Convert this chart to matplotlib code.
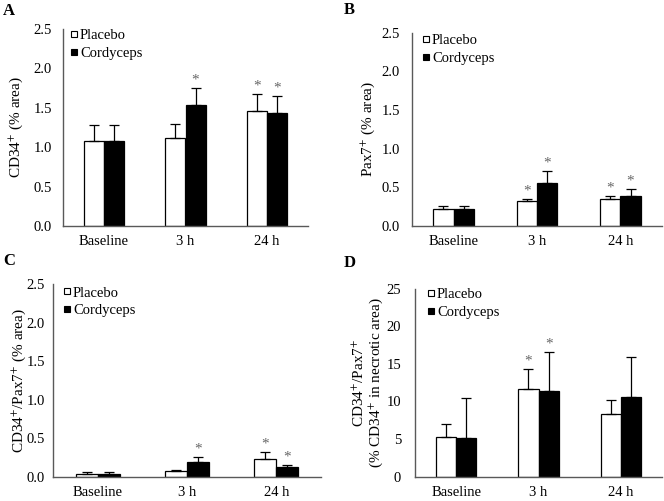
import matplotlib
matplotlib.use("Agg")
import matplotlib.pyplot as plt
from matplotlib.lines import Line2D
import numpy as np

plt.rcParams['font.family'] = ['Liberation Serif', 'DejaVu Serif']
plt.rcParams['mathtext.fontset'] = 'stix'

categories = ["Baseline", "3 h", "24 h"]
series_names = ["Placebo", "Cordyceps"]

# Panel A: CD34+ (% area)
a_placebo = [1.08, 1.12, 1.46]
a_placebo_err = [0.20, 0.18, 0.22]
a_cord = [1.08, 1.54, 1.43]
a_cord_err = [0.20, 0.21, 0.22]
a_star_placebo = [False, False, True]
a_star_cord = [False, True, True]

# Panel B: Pax7+ (% area)
b_placebo = [0.21, 0.32, 0.34]
b_placebo_err = [0.05, 0.03, 0.05]
b_cord = [0.21, 0.55, 0.39]
b_cord_err = [0.05, 0.16, 0.09]
b_star_placebo = [False, True, True]
b_star_cord = [False, True, True]

# Panel C: CD34+/Pax7+ (% area)
c_placebo = [0.045, 0.075, 0.24]
c_placebo_err = [0.015, 0.02, 0.08]
c_cord = [0.045, 0.20, 0.135]
c_cord_err = [0.015, 0.055, 0.02]
c_star_placebo = [False, False, True]
c_star_cord = [False, True, True]

# Panel D: CD34+/Pax7+ (% CD34+ in necrotic area)
d_placebo = [5.3, 11.6, 8.35]
d_placebo_err = [1.7, 2.75, 1.8]
d_cord = [5.2, 11.4, 10.65]
d_cord_err = [5.2, 5.2, 5.25]
d_star_placebo = [False, True, False]
d_star_cord = [False, True, False]

W, H = 664, 501
fig = plt.figure(figsize=(W / 100, H / 100), dpi=100)


def rect(x0, x1, ytop, ybot):
    return [x0 / W, (H - ybot) / H, (x1 - x0) / W, (ybot - ytop) / H]


panels = [
    dict(px=(63, 308, 29, 226), p=a_placebo, pe=a_placebo_err, c=a_cord, ce=a_cord_err,
         sp=a_star_placebo, sc=a_star_cord, ymax=2.5, ticks=[0.0, 0.5, 1.0, 1.5, 2.0, 2.5], fmt="{:.1f}",
         ylabel=r"CD34$^{+}$ (% area)", letter="A", lpos=(3, 11), ylx=25, ypad=11, leg=(9, 5)),
    dict(px=(412, 662, 32.7, 225.7), p=b_placebo, pe=b_placebo_err, c=b_cord, ce=b_cord_err,
         sp=b_star_placebo, sc=b_star_cord, ymax=2.5, ticks=[0.0, 0.5, 1.0, 1.5, 2.0, 2.5], fmt="{:.1f}",
         ylabel=r"Pax7$^{+}$ (% area)", letter="B", lpos=(344, 10), ylx=377, ypad=12, leg=(12, 6.5)),
    dict(px=(53, 321, 284.3, 477), p=c_placebo, pe=c_placebo_err, c=c_cord, ce=c_cord_err,
         sp=c_star_placebo, sc=c_star_cord, ymax=2.5, ticks=[0.0, 0.5, 1.0, 1.5, 2.0, 2.5], fmt="{:.1f}",
         ylabel=r"CD34$^{+}$/Pax7$^{+}$ (% area)", letter="C", lpos=(3, 261), ylx=28, ypad=8, leg=(12, 7)),
    dict(px=(415, 662, 288.7, 476.7), p=d_placebo, pe=d_placebo_err, c=d_cord, ce=d_cord_err,
         sp=d_star_placebo, sc=d_star_cord, ymax=25, ticks=[0, 5, 10, 15, 20, 25], fmt="{:d}",
         ylabel="CD34$^{+}$/Pax7$^{+}$\n(% CD34$^{+}$ in necrotic area)", letter="D", lpos=(344, 263),
         ylx=385, ypad=14, leg=(14, 4.5)),
]

x = np.arange(len(categories))
bw = 0.245
axis_col = "#595959"
star_col = "#666666"
fs = 10.5

for pn in panels:
    x0, x1, yt, yb = pn["px"]
    wpx, hpx = x1 - x0, yb - yt
    ax = fig.add_axes(rect(x0, x1, yt, yb))
    ax.bar(x - bw / 2, pn["p"], bw, color="white", edgecolor="black", linewidth=0.9, zorder=2)
    ax.bar(x + bw / 2, pn["c"], bw, color="black", edgecolor="black", linewidth=0.9, zorder=2)
    ax.errorbar(x - bw / 2, pn["p"], yerr=[np.zeros(3), pn["pe"]], fmt="none", ecolor="black",
                elinewidth=0.9, capsize=3.5, capthick=0.9, zorder=3)
    ax.errorbar(x + bw / 2, pn["c"], yerr=[np.zeros(3), pn["ce"]], fmt="none", ecolor="black",
                elinewidth=0.9, capsize=3.5, capthick=0.9, zorder=3)
    for i in range(3):
        if pn["sp"][i]:
            ax.annotate("*", (x[i] - bw / 2, pn["p"][i] + pn["pe"][i]), xytext=(0, 1),
                        textcoords="offset points", ha="center", va="bottom", fontsize=11, color=star_col)
        if pn["sc"][i]:
            ax.annotate("*", (x[i] + bw / 2, pn["c"][i] + pn["ce"][i]), xytext=(0, 1),
                        textcoords="offset points", ha="center", va="bottom", fontsize=11, color=star_col)
    ax.set_xlim(-0.5, 2.5)
    ax.set_ylim(0, pn["ymax"])
    ax.set_yticks(pn["ticks"])
    ax.set_yticklabels([pn["fmt"].format(t) for t in pn["ticks"]], fontsize=fs)
    ax.set_xticks(x)
    ax.set_xticklabels(categories, fontsize=fs)
    ax.tick_params(length=0)
    ax.tick_params(axis="x", pad=6.5)
    ax.tick_params(axis="y", pad=pn["ypad"] * 0.72)
    for s in ["top", "right"]:
        ax.spines[s].set_visible(False)
    for s in ["left", "bottom"]:
        ax.spines[s].set_color(axis_col)
        ax.spines[s].set_linewidth(1.0)
    ax.set_ylabel(pn["ylabel"], fontsize=11, linespacing=1.0)
    ax.yaxis.set_label_coords((pn["ylx"] - x0) / wpx, 0.5)
    handles = [Line2D([], [], marker="s", linestyle="none", markerfacecolor="white", markeredgecolor="black",
                      markersize=5, markeredgewidth=0.8),
               Line2D([], [], marker="s", linestyle="none", markerfacecolor="black", markeredgecolor="black",
                      markersize=5, markeredgewidth=0.8)]
    lx, ly = pn["leg"]
    ax.legend(handles, series_names, loc="upper left",
              bbox_to_anchor=((lx - 1.5) / wpx, 1 + (5 - ly) / hpx), frameon=False,
              fontsize=fs, handlelength=0.5, handletextpad=0.15, labelspacing=0.3, borderpad=0.0,
              borderaxespad=0.0)
    fig.text(pn["lpos"][0] / W, 1 - pn["lpos"][1] / H, pn["letter"], fontsize=12, fontweight="bold",
             ha="left", va="center")

fig.savefig("out.png", dpi=100)
